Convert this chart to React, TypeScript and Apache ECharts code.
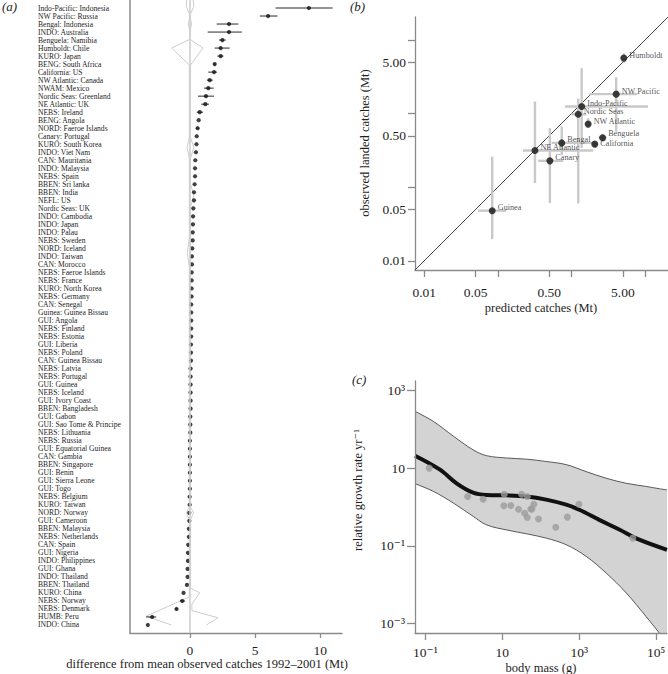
import React, { useEffect, useRef } from 'react';
import * as echarts from 'echarts';

// ---------- panel (a) ----------
const regionLabels = [
  'Indo-Pacific: Indonesia', 'NW Pacific: Russia', 'Bengal: Indonesia', 'INDO: Australia', 'Benguela: Namibia',
  'Humboldt: Chile', 'KURO: Japan', 'BENG: South Africa', 'California: US', 'NW Atlantic: Canada',
  'NWAM: Mexico', 'Nordic Seas: Greenland', 'NE Atlantic: UK', 'NEBS: Ireland', 'BENG: Angola',
  'NORD: Faeroe Islands', 'Canary: Portugal', 'KURO: South Korea', 'INDO: Viet Nam', 'CAN: Mauritania',
  'INDO: Malaysia', 'NEBS: Spain', 'BBEN: Sri lanka', 'BBEN: India', 'NEFL: US',
  'Nordic Seas: UK', 'INDO: Cambodia', 'INDO: Japan', 'INDO: Palau', 'NEBS: Sweden',
  'NORD: Iceland', 'INDO: Taiwan', 'CAN: Morocco', 'NEBS: Faeroe Islands', 'NEBS: France',
  'KURO: North Korea', 'NEBS: Germany', 'CAN: Senegal', 'Guinea: Guinea Bissau', 'GUI: Angola',
  'NEBS: Finland', 'NEBS: Estonia', 'GUI: Liberia', 'NEBS: Poland', 'CAN: Guinea Bissau',
  'NEBS: Latvia', 'NEBS: Portugal', 'GUI: Guinea', 'NEBS: Iceland', 'GUI: Ivory Coast',
  'BBEN: Bangladesh', 'GUI: Gabon', 'GUI: Sao Tome & Principe', 'NEBS: Lithuania', 'NEBS: Russia',
  'GUI: Equatorial Guinea', 'CAN: Gambia', 'BBEN: Singapore', 'GUI: Benin', 'GUI: Sierra Leone',
  'GUI: Togo', 'NEBS: Belgium', 'KURO: Taiwan', 'NORD: Norway', 'GUI: Cameroon',
  'BBEN: Malaysia', 'NEBS: Netherlands', 'CAN: Spain', 'GUI: Nigeria', 'INDO: Philippines',
  'GUI: Ghana', 'INDO: Thailand', 'BBEN: Thailand', 'KURO: China', 'NEBS: Norway',
  'NEBS: Denmark', 'HUMB: Peru', 'INDO: China',
];
const catchDiff = [
  9.13, 6.0, 3.0, 3.0, 2.49, 2.36, 2.36, 1.9, 1.85, 1.52,
  1.41, 1.23, 1.18, 0.75, 0.67, 0.59, 0.52, 0.5, 0.46, 0.41,
  0.39, 0.39, 0.36, 0.31, 0.31, 0.26, 0.24, 0.23, 0.21, 0.21,
  0.18, 0.15, 0.15, 0.13, 0.13, 0.13, 0.13, 0.1, 0.1, 0.1,
  0.1, 0.1, 0.08, 0.08, 0.08, 0.05, 0.05, 0.05, 0.05, 0.05,
  0.05, 0.03, 0.03, 0.03, 0.0, 0.0, 0.0, 0.0, 0.0, 0.0,
  0.0, -0.02, -0.02, -0.05, -0.05, -0.08, -0.08, -0.13, -0.15, -0.15,
  -0.18, -0.18, -0.23, -0.49, -0.59, -1.03, -2.9, -3.23,
];
const diffLow: (number | null)[] = [
  6.57, 5.36, 2.05, 1.36, 2.23, 1.9, 2.1, 1.8, 1.41, 1.3,
  1.08, 0.62, 0.87, 0.52, null, 0.5, ...Array(58).fill(null), -0.77, -1.15, -3.36, null,
];
const diffHigh: (number | null)[] = [
  10.95, 6.72, 3.72, 3.98, 2.75, 3.05, 2.57, 2.0, 2.08, 1.75,
  1.82, 1.85, 1.46, 1.0, null, 0.7, ...Array(58).fill(null), -0.38, -0.92, -2.59, null,
];
// grey traces: [difference (Mt), row position]
const traceLeft: [number, number][] = [
  [-0.25, -1], [-0.28, -0.2], [0, 0.9], [-0.12, 2], [0, 3], [0, 3.9], [-1.4, 5], [-0.05, 7.1],
  [-0.05, 16.2], [-0.22, 17.4], [-0.05, 18.7], [-0.05, 28.7], [-0.2, 30.5], [-0.05, 32.3],
  [-0.05, 62.3], [-0.28, 63], [-0.05, 63.8], [-0.05, 73.5], [-3.35, 75.9], [-1.43, 77],
];
const traceRight: [number, number][] = [
  [0.25, -1], [0.3, -0.2], [0, 0.9], [0.12, 2], [0, 3], [0, 3.9], [1.0, 5], [0.05, 7.1],
  [0.05, 16.2], [0.3, 17.4], [0.05, 18.7], [0.05, 22], [0.3, 23.4], [0.05, 24.8],
  [0.05, 62.3], [0.28, 63], [0.05, 63.8], [0.05, 72.4], [0.75, 73.0], [0.15, 74.4],
  [0.15, 75.2], [2.15, 76.1], [1.26, 77],
];
const aTicks = [0, 5, 10];

// ---------- panel (b) ----------
const bNames = ['Humboldt', 'NW Pacific', 'Indo-Pacific', 'Nordic Seas', 'NW Atlantic', 'Benguela', 'California', 'Bengal', 'NE Atlantic', 'Canary', 'Guinea'];
const bPredicted = [5.16, 4.06, 1.38, 1.24, 1.69, 2.66, 2.08, 0.74, 0.32, 0.51, 0.084];
const bObserved = [5.68, 1.84, 1.25, 0.98, 0.72, 0.47, 0.385, 0.4, 0.315, 0.228, 0.048];
const bPredLow = [4.7, 1.75, 0.82, 1.0, 1.55, 2.35, 1.9, 0.54, 0.22, 0.354, 0.054];
const bPredHigh = [5.7, 7.9, 11.0, 1.6, 1.85, 3.0, 2.3, 1.98, 1.98, 0.775, 0.13];
const bObsLow = [4.9, 0.57, 0.34, 0.06, 0.66, 0.42, 0.35, 0.275, 0.114, 0.061, 0.0197];
const bObsHigh = [6.6, 3.13, 4.15, 1.6, 0.87, 0.53, 0.42, 0.67, 1.46, 0.635, 0.26];
const bTickValues = [0.01, 0.05, 0.1, 0.5, 1, 5, 10];
const bLabelValues = [0.01, 0.05, 0.5, 5];

// ---------- panel (c) (log10 units) ----------
const bandLogMass = [-1.27, -0.79, -0.27, 0.24, 0.59, 1.11, 1.63, 2.14, 2.66, 3.18, 3.7, 4.22, 4.73, 5.08, 5.28];
const bandLogUpper = [2.46, 2.2, 1.82, 1.47, 1.32, 1.26, 1.23, 1.17, 1.09, 0.91, 0.74, 0.61, 0.53, 0.47, 0.44];
const bandLogLower = [0.6, 0.4, 0.1, -0.24, -0.46, -0.59, -0.69, -0.8, -0.97, -1.27, -1.7, -2.21, -2.81, -3.24, -3.5];
const meanLogMass = [-1.27, -0.62, -0.19, 0.24, 0.59, 1.11, 1.63, 2.14, 2.66, 3.0, 3.52, 4.04, 4.56, 5.28];
const meanLogRate = [1.32, 0.96, 0.61, 0.37, 0.31, 0.3, 0.27, 0.19, 0.06, -0.07, -0.33, -0.58, -0.84, -1.1];
const pointLogMass = [-0.9, 0.1, 0.5, 1.05, 1.04, 1.22, 1.42, 1.5, 1.65, 1.58, 1.65, 1.74, 1.77, 1.82, 1.94, 2.39, 2.69, 2.99, 4.39];
const pointLogRate = [1.0, 0.27, 0.2, 0.33, 0.03, 0.04, -0.06, 0.33, 0.27, -0.16, -0.27, -0.05, -0.05, 0.07, -0.31, -0.52, -0.26, 0.07, -0.8];
const cXTicks = [-1, 1, 3, 5];
const cYTicks = [-3, -1, 1, 3];

const SERIF = "'Liberation Serif', 'DejaVu Serif', serif";
const TXT = '#1e1e1e';
const AXIS = '#8a8a8a';

const SUP: Record<string, string> = { '-': '⁻', '0': '⁰', '1': '¹', '2': '²', '3': '³', '4': '⁴', '5': '⁵' };
const pow10 = (e: number) => (e === 1 ? '10' : '10' + String(e).split('').map((c) => SUP[c] ?? c).join(''));
const near = (v: number, arr: number[]) => arr.find((t) => Math.abs(Math.log10(t) - v) < 1e-6);
const labelNudge: Record<string, number> = { Benguela: -4.5, California: -0.5 };

export default function App() {
  const ref = useRef<HTMLDivElement>(null);
  useEffect(() => {
    if (!ref.current) return;
    const chart = echarts.init(ref.current, undefined, { renderer: 'svg' });
    const lg = (v: number) => Math.log10(v);
    const bMin = -2.125;
    const bMax = 1.313;

    const axisLineStyle = { color: AXIS, width: 1.3 };
    const tickLabel = { fontFamily: SERIF, fontSize: 13.5, color: TXT };

    const aBars = catchDiff
      .map((_, i) => (diffLow[i] != null ? [diffLow[i], diffHigh[i], i] : null))
      .filter((d) => d !== null);

    const option: any = {
      animation: false,
      backgroundColor: '#ffffff',
      grid: [
        { left: 130, top: 0, width: 212, height: 633, outerBoundsMode: 'none' },
        { left: 415, top: 17, width: 253, height: 253, outerBoundsMode: 'none' },
        { left: 415, top: 381, width: 252, height: 252, outerBoundsMode: 'none' },
      ],
      xAxis: [
        {
          gridIndex: 0, type: 'value', min: -4.6, max: 11.67,
          axisLine: { show: true, onZero: false, lineStyle: axisLineStyle },
          axisTick: { show: true, customValues: aTicks, length: 5, lineStyle: axisLineStyle },
          axisLabel: { ...tickLabel, customValues: aTicks, margin: 10 },
          splitLine: { show: false },
        },
        {
          gridIndex: 1, type: 'value', min: bMin, max: bMax,
          axisLine: { show: true, onZero: false, lineStyle: axisLineStyle },
          axisTick: { show: true, customValues: bTickValues.map(lg), length: 7, lineStyle: axisLineStyle },
          axisLabel: {
            ...tickLabel, customValues: bLabelValues.map(lg), margin: 15,
            formatter: (v: number) => { const t = near(v, bLabelValues); return t != null ? t.toFixed(2) : ''; },
          },
          splitLine: { show: false },
        },
        {
          gridIndex: 2, type: 'value', min: -1.27, max: 5.28, z: 10,
          axisLine: { show: true, onZero: false, lineStyle: axisLineStyle },
          axisTick: { show: true, customValues: cXTicks, length: 7, lineStyle: axisLineStyle },
          axisLabel: { ...tickLabel, customValues: cXTicks, margin: 12, formatter: (v: number) => pow10(Math.round(v)) },
          splitLine: { show: false },
        },
      ],
      yAxis: [
        {
          gridIndex: 0, type: 'value', min: -1, max: 78, interval: 1, inverse: true,
          axisLine: { show: true, onZero: false, lineStyle: { color: AXIS, width: 1.5 } },
          axisTick: { show: false },
          axisLabel: {
            align: 'left', margin: 92, fontFamily: SERIF, fontSize: 7.6, color: TXT,
            formatter: (v: number) => regionLabels[v] ?? '',
          },
          splitLine: { show: false },
        },
        {
          gridIndex: 1, type: 'value', min: bMin, max: bMax,
          axisLine: { show: true, onZero: false, lineStyle: axisLineStyle },
          axisTick: { show: true, customValues: bTickValues.map(lg), length: 7, lineStyle: axisLineStyle },
          axisLabel: {
            ...tickLabel, customValues: bLabelValues.map(lg), margin: 9,
            formatter: (v: number) => { const t = near(v, bLabelValues); return t != null ? t.toFixed(2) : ''; },
          },
          splitLine: { show: false },
        },
        {
          gridIndex: 2, type: 'value', min: -3.24, max: 3.24, z: 10,
          axisLine: { show: true, onZero: false, lineStyle: axisLineStyle },
          axisTick: { show: true, customValues: cYTicks, length: 8, lineStyle: axisLineStyle },
          axisLabel: { ...tickLabel, customValues: cYTicks, margin: 10, formatter: (v: number) => pow10(Math.round(v)) },
          splitLine: { show: false },
        },
      ],
      series: [
        // ---- panel a
        {
          type: 'line', xAxisIndex: 0, yAxisIndex: 0, data: traceLeft, symbol: 'none', z: 1,
          lineStyle: { color: '#cdcdcd', width: 1 },
          markLine: {
            silent: true, symbol: 'none', label: { show: false },
            lineStyle: { color: '#d0d0d0', width: 1.6, type: 'solid' },
            data: [{ xAxis: 0 }],
          },
        },
        { type: 'line', xAxisIndex: 0, yAxisIndex: 0, data: traceRight, symbol: 'none', z: 1, lineStyle: { color: '#cdcdcd', width: 1 } },
        {
          type: 'custom', xAxisIndex: 0, yAxisIndex: 0, data: aBars, z: 2,
          renderItem: (_p: any, api: any) => {
            const a = api.coord([api.value(0), api.value(2)]);
            const b = api.coord([api.value(1), api.value(2)]);
            return { type: 'line', shape: { x1: a[0], y1: a[1], x2: b[0], y2: b[1] }, style: { stroke: '#2a2a2a', lineWidth: 1 } };
          },
        },
        {
          type: 'scatter', xAxisIndex: 0, yAxisIndex: 0, symbolSize: 4.2, z: 3,
          itemStyle: { color: '#111' },
          data: catchDiff.map((v, i) => [v, i]),
        },
        // ---- panel b
        {
          type: 'line', xAxisIndex: 1, yAxisIndex: 1, symbol: 'none', z: 1,
          lineStyle: { color: '#333', width: 0.9 },
          data: [[bMin, bMin], [bMax, bMax]],
        },
        {
          type: 'custom', xAxisIndex: 1, yAxisIndex: 1, z: 2,
          data: bNames.map((_, i) => [lg(bPredicted[i]), lg(bObserved[i]), lg(bPredLow[i]), lg(bPredHigh[i]), lg(bObsLow[i]), lg(bObsHigh[i])]),
          renderItem: (_p: any, api: any) => {
            const x = api.value(0), y = api.value(1);
            const h1 = api.coord([api.value(2), y]), h2 = api.coord([api.value(3), y]);
            const v1 = api.coord([x, api.value(4)]), v2 = api.coord([x, api.value(5)]);
            const st = { stroke: '#c9c9c9', lineWidth: 2.4 };
            return {
              type: 'group',
              children: [
                { type: 'line', shape: { x1: h1[0], y1: h1[1], x2: h2[0], y2: h2[1] }, style: st },
                { type: 'line', shape: { x1: v1[0], y1: v1[1], x2: v2[0], y2: v2[1] }, style: st },
              ],
            };
          },
        },
        {
          type: 'scatter', xAxisIndex: 1, yAxisIndex: 1, symbolSize: 7, z: 3,
          itemStyle: { color: '#111' },
          data: bNames.map((n, i) => ({
            name: n,
            value: [lg(bPredicted[i]), lg(bObserved[i])],
            label: { offset: [0, labelNudge[n] ?? -3] },
          })),
          label: {
            show: true, position: 'right', distance: 2, offset: [0, -3],
            formatter: '{b}', fontFamily: SERIF, fontSize: 8.2, color: TXT,
          },
        },
        // ---- panel c: band = grey fill under upper edge, white fill under lower edge
        {
          type: 'line', xAxisIndex: 2, yAxisIndex: 2, symbol: 'none', z: 2,
          smooth: 0.35, lineStyle: { color: '#333', width: 0.8 },
          areaStyle: { color: '#d3d3d3', opacity: 1, origin: 'start' },
          data: bandLogMass.map((x, i) => [x, bandLogUpper[i]]),
        },
        {
          type: 'line', xAxisIndex: 2, yAxisIndex: 2, symbol: 'none', z: 3,
          smooth: 0.35, lineStyle: { color: '#333', width: 0.8 },
          areaStyle: { color: '#ffffff', opacity: 1, origin: 'start' },
          data: bandLogMass.map((x, i) => [x, bandLogLower[i]]),
        },
        {
          type: 'line', xAxisIndex: 2, yAxisIndex: 2, symbol: 'none', z: 4, smooth: 0.35,
          lineStyle: { color: '#111', width: 4 },
          data: meanLogMass.map((x, i) => [x, meanLogRate[i]]),
        },
        {
          type: 'scatter', xAxisIndex: 2, yAxisIndex: 2, symbolSize: 7, z: 5,
          itemStyle: { color: '#9c9c9c' },
          data: pointLogMass.map((x, i) => [x, pointLogRate[i]]),
        },
      ],
      graphic: [
        { type: 'text', left: 2, top: 0, style: { text: '(a)', font: `italic 13px ${SERIF}`, fill: TXT } },
        { type: 'text', left: 350, top: 0, style: { text: '(b)', font: `italic 13px ${SERIF}`, fill: TXT } },
        { type: 'text', left: 352, top: 373, style: { text: '(c)', font: `italic 13px ${SERIF}`, fill: TXT } },
        {
          type: 'text', x: 207, y: 664,
          style: { text: 'difference from mean observed catches 1992–2001 (Mt)', font: `12.5px ${SERIF}`, fill: TXT, textAlign: 'center', textVerticalAlign: 'middle' },
        },
        {
          type: 'text', x: 541, y: 308,
          style: { text: 'predicted catches (Mt)', font: `12.5px ${SERIF}`, fill: TXT, textAlign: 'center', textVerticalAlign: 'middle' },
        },
        {
          type: 'text', x: 365, y: 143, rotation: Math.PI / 2,
          style: { text: 'observed landed catches (Mt)', font: `12.5px ${SERIF}`, fill: TXT, textAlign: 'center', textVerticalAlign: 'middle' },
        },
        {
          type: 'text', x: 541, y: 668,
          style: { text: 'body mass (g)', font: `12.5px ${SERIF}`, fill: TXT, textAlign: 'center', textVerticalAlign: 'middle' },
        },
        {
          type: 'text', x: 358, y: 490, rotation: Math.PI / 2,
          style: { text: 'relative growth rate yr⁻¹', font: `12.5px ${SERIF}`, fill: TXT, textAlign: 'center', textVerticalAlign: 'middle' },
        },
      ],
    };
    chart.setOption(option);
    return () => chart.dispose();
  }, []);
  return <div ref={ref} style={{ position: 'fixed', left: 0, top: 0, width: 668, height: 674, background: '#fff' }} />;
}
